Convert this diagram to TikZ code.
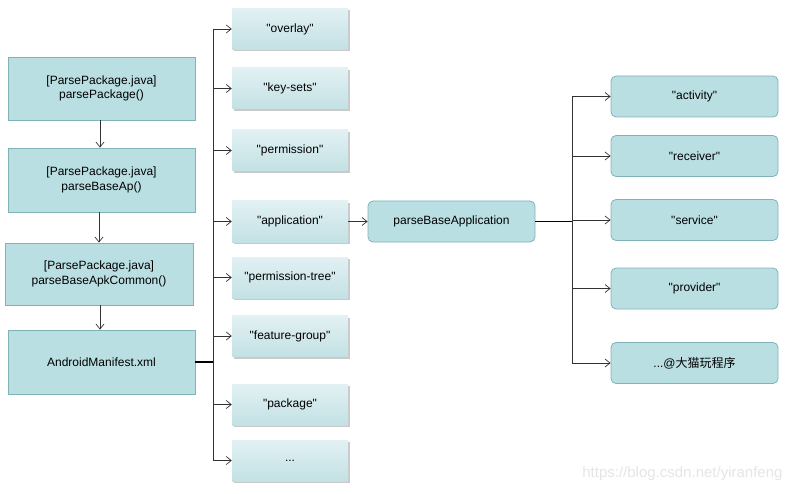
\documentclass[tikz,border=0pt]{standalone}
\usepackage{fontspec}
\setmainfont{Liberation Sans}[Ligatures=TeXOff]
\newfontfamily\cjk{Noto Sans CJK SC}
\usetikzlibrary{arrows.meta,shadows}
\definecolor{boxfill}{HTML}{BADFE2}
\definecolor{boxline}{HTML}{7FB3B8}
\definecolor{gtop}{HTML}{E2F1F3}
\definecolor{gbot}{HTML}{C3E1E4}
\definecolor{conn}{HTML}{333333}
\tikzset{
  x=1pt,y=-1pt,
  every node/.style={font=\fontsize{12}{14.5}\selectfont, text=black},
  leftbox/.style={draw=boxline, fill=boxfill, line width=0.8pt, inner sep=0pt},
  midbox/.style={draw=none, top color=gtop, bottom color=gbot, inner sep=0pt,
     drop shadow={shadow xshift=2pt, shadow yshift=-2pt, opacity=0.35, fill=black!60}},
  rbox/.style={draw=boxline, fill=boxfill, line width=0.8pt, rounded corners=5pt, inner sep=0pt},
  arr/.style={draw=conn, line width=0.7pt, -{Straight Barb[length=5pt,width=8pt]}},
  bus/.style={draw=conn, line width=0.9pt},
  thick bus/.style={draw=black, line width=1.6pt},
}
\begin{document}
\begin{tikzpicture}
\useasboundingbox (0,0) rectangle (794,494);
% left column
\node[leftbox, minimum width=187pt, minimum height=63pt, align=center] (pp) at (101.5,88.5) {[ParsePackage.java]\\parsePackage()};
\node[leftbox, minimum width=187pt, minimum height=64pt, align=center] (pba) at (101.5,180) {[ParsePackage.java]\\parseBaseAp()};
\node[leftbox, minimum width=188pt, minimum height=62pt, align=center] (pbac) at (99,274) {[ParsePackage.java]\\parseBaseApkCommon()};
\node[leftbox, minimum width=187pt, minimum height=64pt] (am) at (101.5,362) {AndroidManifest.xml};
\draw[arr] (pp.south -| 100,0) -- (pba.north -| 100,0);
\draw[arr] (pba.south -| 99,0) -- (pbac.north -| 99,0);
\draw[arr] (pbac.south -| 100,0) -- (am.north -| 100,0);
% middle column
\foreach \nm/\yc/\txt in {ov/29/{"overlay"}, ks/88.5/{"key-sets"}, pm/150.5/{"permission"}, ap/221.5/{"application"}, pt/277.5/{"permission-tree"}, fg/336/{"feature-group"}, pk/404.5/{"package"}, dd/460.5/{...}}{
  \node[midbox, minimum width=116pt, minimum height=41pt] (\nm) at (290,\yc) {\txt};
}
\coordinate (bt) at (213,29);
\coordinate (bb) at (213,461);
\draw[bus] (bt) -- (bb);
\draw[thick bus] (am.east) -- (am.east -| bt);
\foreach \nm in {ov,ks,pm,ap,pt,fg,pk,dd}{
  \draw[arr] (\nm.west -| bt) -- (\nm.west);
}
% parseBaseApplication
\node[rbox, minimum width=167pt, minimum height=41pt] (pbapp) at (451.5,221.5) {parseBaseApplication};
\draw[arr] (ap.east) -- (pbapp.west);
% right column
\foreach \nm/\yc/\txt in {ac/96.5/{"activity"}, rc/156/{"receiver"}, sv/220/{"service"}, pv/288.5/{"provider"}}{
  \node[rbox, minimum width=167pt, minimum height=41pt] (\nm) at (694.5,\yc) {\txt};
}
\node[rbox, minimum width=167pt, minimum height=41pt] (lst) at (694.5,363) {...@{\cjk 大猫玩程序}};
\coordinate (ct) at (572,96.5);
\coordinate (cb) at (572,363);
\draw[bus] (ct) -- (cb);
\draw[thick bus] (pbapp.east) -- (pbapp.east -| ct);
\foreach \nm in {ac,rc,sv,pv,lst}{
  \draw[arr] (\nm.west -| ct) -- (\nm.west);
}
% watermark
\node[text=black!10, font=\fontsize{15}{18}\selectfont, anchor=east] (wm) at (786,474) {https://blog.csdn.net/yiranfeng};
\end{tikzpicture}
\end{document}
